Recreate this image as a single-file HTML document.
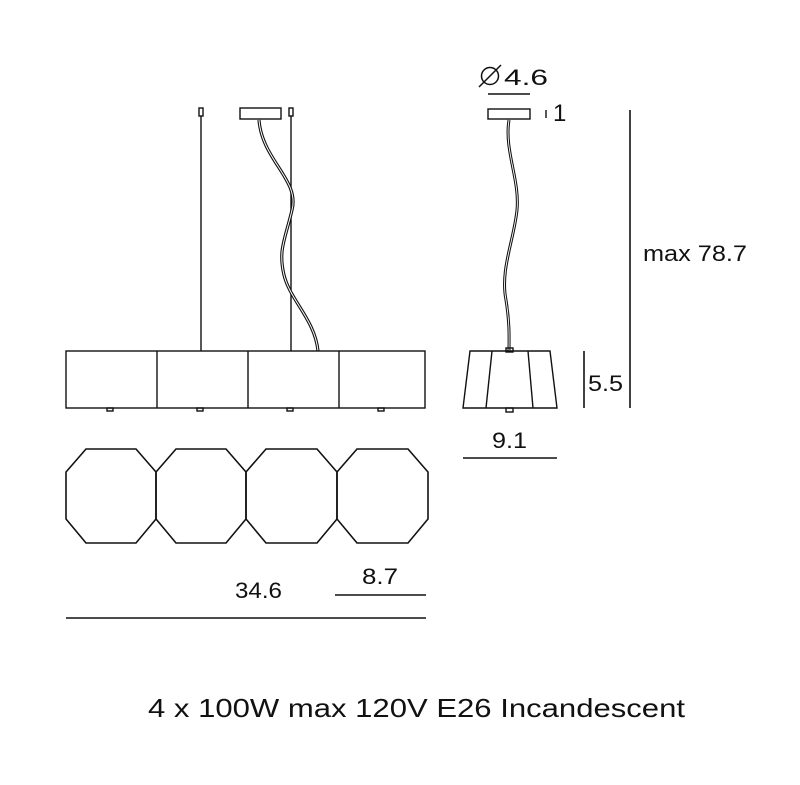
<!DOCTYPE html>
<html><head><style>body{margin:0;background:#fff}svg{display:block}text{font-family:"Liberation Sans",sans-serif;fill:#111}</style></head><body>
<svg width="800" height="785" viewBox="0 0 800 785" xmlns="http://www.w3.org/2000/svg">
<g stroke="#111" stroke-width="1.4" fill="none">
<rect x="199" y="108" width="4" height="8"/>
<rect x="289" y="108" width="4" height="8"/>
<rect x="240" y="108" width="41" height="11"/>
<line x1="201" y1="116" x2="201" y2="351"/>
<line x1="291" y1="116" x2="291" y2="351"/>
<path d="M259 120 C262 160,300 180,292 210 C285 240,278 250,284 275 C290 300,315 320,318 351" stroke-width="3.2"/>
<path d="M259 120 C262 160,300 180,292 210 C285 240,278 250,284 275 C290 300,315 320,318 351" stroke="#fff" stroke-width="1"/>
<rect x="66" y="351" width="359" height="57"/>
<line x1="157" y1="351" x2="157" y2="408"/>
<line x1="248" y1="351" x2="248" y2="408"/>
<line x1="339" y1="351" x2="339" y2="408"/>
<rect x="107" y="408" width="6" height="3"/><rect x="197" y="408" width="6" height="3"/><rect x="287" y="408" width="6" height="3"/><rect x="378" y="408" width="6" height="3"/>
<g stroke-width="1.6">
<path d="M86 449 H136 L156 472 V519 L136 543 H86 L66 519 V472 Z"/>
<path d="M176 449 H226 L246 472 V519 L226 543 H176 L156 519 V472 Z"/>
<path d="M266 449 H317 L337 472 V519 L317 543 H266 L246 519 V472 Z"/>
<path d="M357 449 H408 L428 472 V519 L408 543 H357 L337 519 V472 Z"/>
</g>
<line x1="66" y1="618" x2="426" y2="618" stroke-width="1.6"/>
<line x1="335" y1="595" x2="426" y2="595" stroke-width="1.6"/>
<rect x="488" y="109" width="42" height="10"/>
<path d="M509 120 C504 150,520 180,517 210 C514 240,500 270,506 300 C510 325,509 340,509 351" stroke-width="3"/>
<path d="M509 120 C504 150,520 180,517 210 C514 240,500 270,506 300 C510 325,509 340,509 351" stroke="#fff" stroke-width="0.9"/>
<rect x="506" y="348" width="7" height="4"/>
<path d="M470 351 H550 L557 408 H463 Z"/>
<line x1="492" y1="351" x2="486" y2="408"/>
<line x1="528" y1="351" x2="533" y2="408"/>
<rect x="506" y="408" width="7" height="4"/>
<line x1="488" y1="94" x2="530" y2="94" stroke-width="1.6"/>
<line x1="546" y1="110" x2="546" y2="118"/>
<line x1="584" y1="351" x2="584" y2="408" stroke-width="1.6"/>
<line x1="630" y1="110" x2="630" y2="408" stroke-width="1.6"/>
<line x1="463" y1="458" x2="557" y2="458" stroke-width="1.6"/>
<circle cx="490" cy="76" r="8.5" stroke-width="1.5"/>
<line x1="479" y1="87" x2="501" y2="65" stroke-width="1.5"/>
</g>
<text x="504" y="85" font-size="22" textLength="44" lengthAdjust="spacingAndGlyphs">4.6</text>
<text x="553" y="121" font-size="24">1</text>
<text x="643" y="261" font-size="22" textLength="104" lengthAdjust="spacingAndGlyphs">max 78.7</text>
<text x="588" y="391" font-size="22" textLength="35" lengthAdjust="spacingAndGlyphs">5.5</text>
<text x="492" y="448" font-size="22" textLength="35" lengthAdjust="spacingAndGlyphs">9.1</text>
<text x="235" y="598" font-size="22" textLength="47" lengthAdjust="spacingAndGlyphs">34.6</text>
<text x="362" y="584" font-size="22" textLength="36" lengthAdjust="spacingAndGlyphs">8.7</text>
<text x="148" y="717" font-size="26" textLength="537" lengthAdjust="spacingAndGlyphs">4 x 100W max 120V E26 Incandescent</text>
</svg>
</body></html>
